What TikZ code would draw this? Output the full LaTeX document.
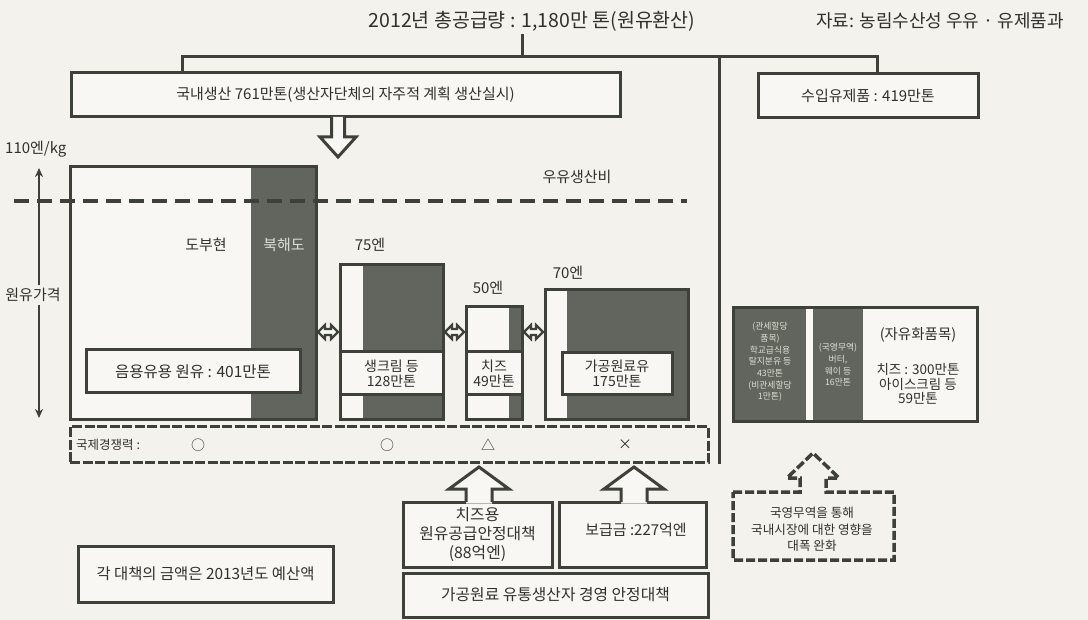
\documentclass[tikz,border=0pt]{standalone}
\usepackage{fontspec}
\setmainfont{Noto Sans CJK KR}
\usetikzlibrary{arrows.meta,calc}
\definecolor{paper}{RGB}{243,242,237}
\definecolor{panel}{RGB}{248,247,243}
\definecolor{linec}{RGB}{62,64,58}
\definecolor{darkf}{RGB}{98,101,93}
\definecolor{textc}{RGB}{48,48,45}
\definecolor{lightt}{RGB}{222,222,214}
\begin{document}
\begin{tikzpicture}[x=1pt,y=-1pt,
  ln/.style={draw=linec,line width=3pt,line join=miter},
  box/.style={draw=linec,line width=3pt,fill=panel,inner sep=0pt,text=textc,align=center},
  lbl/.style={text=textc,inner sep=0pt,align=center},
  f18/.style={font=\fontsize{19.5}{23}\selectfont},
  f17/.style={font=\fontsize{18}{21}\selectfont},
  f14/.style={font=\fontsize{15}{20}\selectfont},
  f13/.style={font=\fontsize{15}{17}\selectfont},
  f12/.style={font=\fontsize{14}{15}\selectfont},
  f9/.style={font=\fontsize{8.8}{11.7}\selectfont},
  dbl/.style={draw=linec,line width=2.2pt,fill=panel,line join=miter}]
\fill[paper] (0,0) rectangle (1088,620);
\useasboundingbox (0,0) rectangle (1088,620);

% ---- top
\node[lbl,f18,inner sep=3pt] (title) at (532,21) {2012년 총공급량 : 1,180만 톤(원유환산)};
\node[lbl,f17] (src) at (940,21) {자료: 농림수산성 우유 · 유제품과};
\node[box,f14,minimum width=549,minimum height=44] (dom) at (345.5,95) {국내생산 761만톤(생산자단체의 자주적 계획 생산실시)};
\node[box,f14,minimum width=220,minimum height=44] (imp) at (868,96) {수입유제품 : 419만톤};
\coordinate (jL) at (182,57);
\coordinate (jR) at (877,57);
\coordinate (jT) at (522,57);
\coordinate (jV) at (719,57);

% ---- price chart
\node[lbl,f13,anchor=west] (kg) at (5,149) {110엔/kg};
\node[box,minimum width=246,minimum height=253] (b1) at (193,293.5) {};
\fill[darkf] (251,167) rectangle (316,420);
\draw[ln] (70,167) rectangle (316,420);
\node[box,minimum width=103,minimum height=155] (b2) at (391.5,342.5) {};
\fill[darkf] (363,265) rectangle (443,420);
\draw[ln] (340,265) rectangle (443,420);
\node[box,minimum width=56,minimum height=113] (b3) at (494,363.5) {};
\fill[darkf] (509,307) rectangle (522,420);
\draw[ln] (466,307) rectangle (522,420);
\node[box,minimum width=143,minimum height=130] (b4) at (616.5,355) {};
\fill[darkf] (567,290) rectangle (688,420);
\draw[ln] (545,290) rectangle (688,420);

\draw[draw=linec,line width=4pt,dash pattern=on 15pt off 8pt] (14,201) -- (687,201);
\node[lbl,f13] (cost) at (577,177) {우유생산비};

\node[lbl,f13] (dofu) at (206,245) {도부현};
\node[lbl,f13,text=lightt] (hok) at (284,245) {북해도};
\node[lbl,f13] (p75) at (370,245) {75엔};
\node[lbl,f13] (p50) at (488,288) {50엔};
\node[lbl,f13] (p70) at (568,273) {70엔};

\node[box,font=\fontsize{15.5}{20}\selectfont,minimum width=214,minimum height=43] (drink) at (193,371.5) {음용유용 원유 : 401만톤};
\node[box,f12,minimum width=103,minimum height=43] (cream) at (391.5,373.5) {생크림 등\\128만톤};
\node[box,f12,minimum width=56,minimum height=43] (chz) at (494,373.5) {치즈\\49만톤};
\node[box,f12,minimum width=110,minimum height=42] (proc) at (617,374) {가공원료유\\175만톤};

% axis
\coordinate (ax1) at (39,168);
\coordinate (ax2) at (39,418);
\draw[draw=linec,line width=2.6pt,{Stealth[length=9pt,width=8pt]}-{Stealth[length=9pt,width=8pt]}] (ax1) -- (ax2);
\node[lbl,f13,fill=paper,inner sep=3pt] (axl) at (33,295) {원유가격};

% double arrows
\coordinate (yd) at (0,332);
\foreach \a/\b in {b1/b2,b2/b3,b3/b4}{
  \coordinate (L) at ($(\a.east |- yd)+(0.5,0)$);
  \coordinate (R) at ($(\b.west |- yd)+(-0.5,0)$);
  \draw[dbl] (L) -- ++(7,-7) -- ++(0,4) -- ($(R)+(-7,-3)$) -- ++(0,-4) -- (R) -- ++(-7,7) -- ++(0,-4) -- ($(L)+(7,3)$) -- ++(0,4) -- cycle;
}

% down arrow from domestic box
\draw[ln,fill=panel] (331.5,117) -- (331.5,137) -- (320,137) -- (338,157) -- (356,137) -- (344.5,137) -- (344.5,117);

% tree connectors
\draw[ln] (dom.north -| jL) -- (jL) -- (jR) -- (imp.north -| jR);
\draw[ln] (title.south -| jT) -- (jT);

% ---- international competitiveness
\node[draw=linec,line width=3pt,dash pattern=on 10pt off 2.5pt,minimum width=638,minimum height=36,inner sep=0pt] (intl) at (389,445) {};
\draw[ln] (jV) -- (jV |- intl.south);
\node[lbl,font=\fontsize{12.5}{15}\selectfont,anchor=west] (ic) at (76,445) {국제경쟁력 :};
\node[lbl,f12] (s1) at (198,445) {○};
\node[lbl,f12] (s2) at (387,445) {○};
\node[lbl,f12] (s3) at (488,445) {△};
\node[lbl,f12] (s4) at (625,445) {×};

% ---- right import breakdown
\node[box,minimum width=244,minimum height=114] (ib) at (855,365) {};
\fill[darkf] (733,308) rectangle (806,422);
\fill[darkf] (813,308) rectangle (863,422);
\draw[ln] (733,308) rectangle (977,422);
\node[lbl,f9,text=lightt] (ta) at (770,362) {(관세할당\\품목)\\학교급식용\\탈지분유 등\\43만톤\\(비관세할당\\1만톤)};
\node[lbl,f9,text=lightt] (st) at (838,365) {(국영무역)\\버터,\\웨이 등\\16만톤};
\node[lbl,font=\fontsize{14.5}{17}\selectfont] (lib) at (918,335) {(자유화품목)};
\node[lbl,font=\fontsize{13.5}{14.5}\selectfont] (libv) at (918,384) {치즈 : 300만톤\\아이스크림 등\\59만톤};

% dashed arrow box
\draw[draw=linec,line width=3.5pt,dash pattern=on 9pt off 3pt,line join=miter] (733,492) -- (800,492) -- (800,478) -- (787,478) -- (813,453) -- (839,478) -- (826,478) -- (826,492) -- (894,492) -- (894,560) -- (733,560) -- cycle;
\node[lbl,font=\fontsize{12.6}{16.5}\selectfont] (stt) at (812,529.5) {국영무역을 통해\\국내시장에 대한 영향을\\대폭 완화};

% ---- bottom measures
\node[box,minimum width=149,minimum height=65] (cp) at (477.5,534.5) {};
\node[box,minimum width=147,minimum height=65] (sub) at (632.5,534.5) {};
% up arrows
\foreach \t in {479,634}{
  \fill[panel] (\t-13,503.6) -- (\t-13,489) -- (\t-30,489) -- (\t,467) -- (\t+30,489) -- (\t+13,489) -- (\t+13,503.6) -- cycle;
  \draw[ln] (\t-13,502) -- (\t-13,489) -- (\t-30,489) -- (\t,467) -- (\t+30,489) -- (\t+13,489) -- (\t+13,502);
}
\node[lbl,font=\fontsize{15.8}{19}\selectfont] (cpt) at (477.5,535) {치즈용\\원유공급안정대책\\(88억엔)};
\node[lbl,font=\fontsize{15}{20}\selectfont] (subt) at (636,530) {보급금 :227억엔};
\node[box,font=\fontsize{15.8}{20}\selectfont,minimum width=305,minimum height=44] (mg) at (555.5,595) {가공원료 유통생산자 경영 안정대책};
\node[box,font=\fontsize{15.4}{20}\selectfont,minimum width=255,minimum height=56] (note) at (205.5,574) {각 대책의 금액은 2013년도 예산액};
\end{tikzpicture}
\end{document}
